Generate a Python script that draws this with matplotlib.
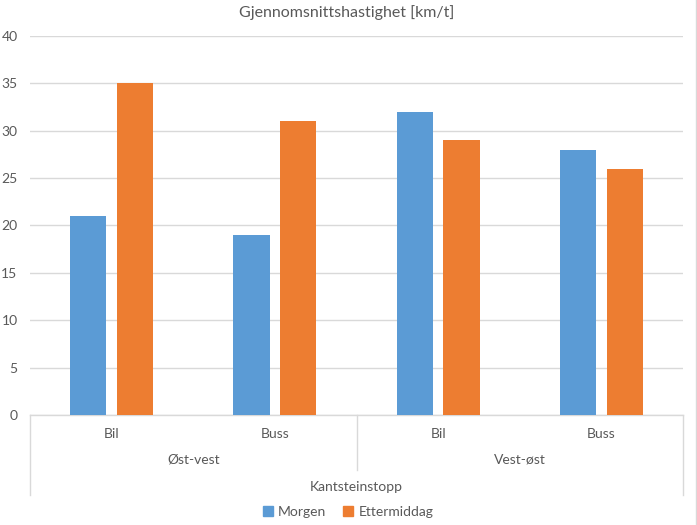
import matplotlib
matplotlib.use("Agg")
import matplotlib.pyplot as plt
from matplotlib.patches import Patch
from matplotlib.lines import Line2D
import numpy as np

plt.rcParams['font.family'] = ['Lato', 'DejaVu Sans']

title = "Gjennomsnittshastighet [km/t]"
categories = ["Bil", "Buss", "Bil", "Buss"]
groups = ["Øst-vest", "Vest-øst"]
top_label = "Kantsteinstopp"
series_names = ["Morgen", "Ettermiddag"]
morgen = [21, 19, 32, 28]
ettermiddag = [35, 31, 29, 26]
yticks = [0, 5, 10, 15, 20, 25, 30, 35, 40]

blue = "#5B9BD5"
orange = "#ED7D31"
txt = "#595959"
linec = "#D9D9D9"
fs = 10

W, H = 697, 525
fig = plt.figure(figsize=(W/100, H/100), dpi=100)
L, R, B, T = 30, 683, 415, 36
ax = fig.add_axes([L/W, 1-B/H, (R-L)/W, (B-T)/H])

x = np.arange(len(categories))
off = 0.143
bw = 0.222
ax.bar(x - off, morgen, bw, color=blue, zorder=3)
ax.bar(x + off, ettermiddag, bw, color=orange, zorder=3)

ax.set_xlim(-0.5, len(categories) - 0.5)
ax.set_ylim(0, 40)
ax.set_yticks(yticks)
ax.set_yticklabels([str(v) for v in yticks], color=txt, fontsize=fs)
ax.tick_params(axis='y', length=0, pad=9)
ax.set_xticks([])
ax.grid(axis='y', color=linec, linewidth=1, zorder=0)
for s in ['top', 'right', 'left']:
    ax.spines[s].set_visible(False)
ax.spines['bottom'].set_color(linec)
ax.spines['bottom'].set_linewidth(1)

def fy(py):
    return 1 - py/H
def fx(px):
    return px/W

# vertical separators
for px, yb in [(L, 495), (357, 470), (R, 495)]:
    fig.add_artist(Line2D([fx(px), fx(px)], [fy(B), fy(yb)], color=linec, linewidth=1))

# category labels
for i, c in enumerate(categories):
    fig.text(fx(L + (i + 0.5) * (R - L) / 4), fy(434), c, ha='center', va='center',
             color=txt, fontsize=fs)
for g, grp in enumerate(groups):
    fig.text(fx(L + (g + 0.5) * (R - L) / 2), fy(460), grp, ha='center', va='center',
             color=txt, fontsize=fs)
fig.text(fx((L + R) / 2), fy(487), top_label, ha='center', va='center', color=txt, fontsize=fs)

fig.text(fx(347), fy(13), title, ha='center', va='center', color=txt, fontsize=11.5)

handles = [Patch(color=blue), Patch(color=orange)]
fig.legend(handles, series_names, loc='center', bbox_to_anchor=(fx(348), fy(512)), ncol=2,
           frameon=False, fontsize=fs, labelcolor=txt, handlelength=0.7, handleheight=0.7,
           handletextpad=0.4, columnspacing=1.2)

# chart border on right edge
fig.add_artist(Line2D([fx(696), fx(696)], [0, 1], color=linec, linewidth=1))

fig.savefig("out.png", dpi=100)
